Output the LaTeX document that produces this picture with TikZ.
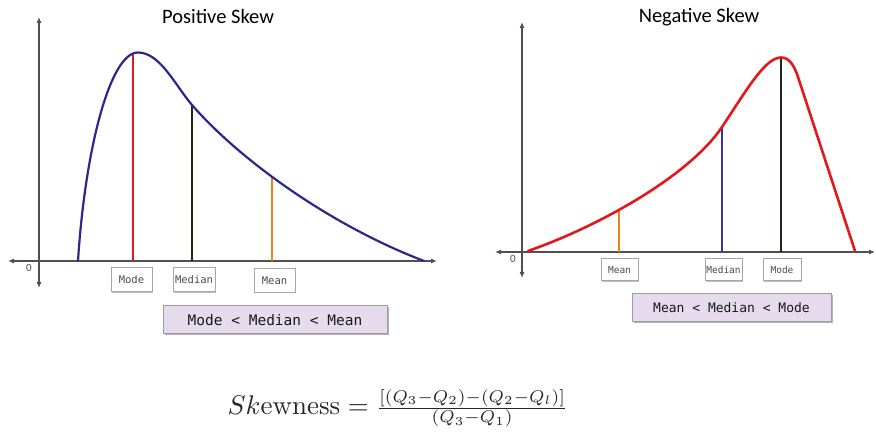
\documentclass[tikz,border=0pt]{standalone}
\usepackage{fontspec}
\usepackage{graphicx}
\usetikzlibrary{arrows.meta,shadows}
\newfontfamily\calib{Carlito}
\newfontfamily\monof{DejaVu Sans Mono}
\definecolor{axisgray}{RGB}{80,80,80}
\definecolor{navycurve}{RGB}{42,40,140}
\definecolor{redcurve}{RGB}{228,24,28}
\definecolor{modered}{RGB}{232,22,30}
\definecolor{darkline}{RGB}{30,42,22}
\definecolor{orangeline}{RGB}{240,128,30}
\definecolor{blueline}{RGB}{55,52,170}
\definecolor{boxfill}{RGB}{229,219,236}
\definecolor{boxborder}{RGB}{160,154,168}
\definecolor{lblgray}{RGB}{75,75,75}
\begin{document}
\begin{tikzpicture}[x=1pt,y=-1pt,
  axis/.style={draw=axisgray, line width=1.1pt, {Latex[length=6pt,width=5pt]}-{Latex[length=6pt,width=5pt]}},
  lcurve/.style={draw=navycurve, line width=2.2pt, line cap=round},
  rcurve/.style={draw=redcurve, line width=2.6pt, line cap=round, line join=round},
  vline/.style={line width=1.6pt},
  titletext/.style={font=\calib\fontsize{20.5}{24}\selectfont, text=black},
  zerotext/.style={font=\calib\fontsize{11}{13}\selectfont, text=axisgray},
  lblbox/.style={draw=black!35, fill=white, line width=1pt, inner sep=0pt,
    minimum height=24pt, text=lblgray,
    drop shadow={shadow xshift=1pt, shadow yshift=-1pt, opacity=0.25, fill=black}},
  bigbox/.style={draw=boxborder, fill=boxfill, line width=1pt, inner sep=0pt,
    minimum height=28pt, text=black!90,
    drop shadow={shadow xshift=1.5pt, shadow yshift=-1.5pt, opacity=0.3, fill=black}}
]
\useasboundingbox (0,0) rectangle (876,435);
\fill[white] (0,0) rectangle (876,435);

% ---------------- Left: Positive Skew ----------------
\node[titletext] (ltitle) at (218,16) {Positive Skew};
\coordinate (lyt) at (39,17);
\coordinate (lyb) at (39,288);
\coordinate (lxl) at (8,261);
\coordinate (lxr) at (437,261);
\draw[axis] (lyb) -- (lyt);
\draw[axis] (lxl) -- (lxr);
\node[zerotext] (lzero) at (29,268) {0};

\coordinate (lstart) at (78,261);
\coordinate (lpeak) at (138,52.5);
\coordinate (lmode) at (133,53.5);
\coordinate (lmedian) at (192,105);
\coordinate (lmean) at (272,176);
\coordinate (lend) at (424,261);
\draw[vline, draw=modered] (lmode) -- (lmode |- lxl);
\draw[vline, draw=darkline] (lmedian) -- (lmedian |- lxl);
\draw[vline, draw=orangeline] (lmean) -- (lmean |- lxl);

\draw[lcurve] (lstart) .. controls (85,150) and (110,52.5) .. (lpeak)
  .. controls (160,52.5) and (175,85) .. (lmedian)
  .. controls (240,160) and (330,225) .. (lend);

\node[lblbox, minimum width=41pt, font=\monof\fontsize{10.5}{12}\selectfont] (lbmode) at (131.5,280) {Mode};
\node[lblbox, minimum width=42pt, font=\monof\fontsize{10.5}{12}\selectfont] (lbmedian) at (194,280) {Median};
\node[lblbox, minimum width=41pt, font=\monof\fontsize{10.5}{12}\selectfont] (lbmean) at (274.5,280.5) {Mean};
\node[bigbox, minimum width=224pt, font=\monof\fontsize{14.5}{17}\selectfont] (lorder) at (275,320) {Mode < Median < Mean};

% ---------------- Right: Negative Skew ----------------
\node[titletext] (rtitle) at (699,17) {Negative Skew};
\coordinate (ryt) at (522,22);
\coordinate (ryb) at (522,278);
\coordinate (rxl) at (495,252);
\coordinate (rxr) at (875,252);
\draw[axis] (ryb) -- (ryt);
\draw[axis] (rxl) -- (rxr);
\node[zerotext] (rzero) at (513,259) {0};

\coordinate (rstart) at (528,251);
\coordinate (rmean) at (619,210.5);
\coordinate (rmedian) at (722,127);
\coordinate (rmode) at (781,57.5);
\coordinate (rshoulder) at (799,80);
\coordinate (rend) at (855,251);
\draw[vline, draw=orangeline] (rmean) -- (rmean |- rxl);
\draw[vline, draw=blueline] (rmedian) -- (rmedian |- rxl);
\draw[vline, draw=darkline] (rmode) -- (rmode |- rxl);

\draw[rcurve] (rstart) .. controls (600,226) and (690,175) .. (rmedian)
  .. controls (746,91) and (765,57.5) .. (rmode)
  .. controls (790,57.5) and (795,67) .. (rshoulder) -- (rend);

\node[lblbox, minimum width=37pt, minimum height=22pt, font=\monof\fontsize{9.5}{11}\selectfont] (rbmean) at (619.5,270) {Mean};
\node[lblbox, minimum width=37pt, minimum height=22pt, font=\monof\fontsize{9.5}{11}\selectfont] (rbmedian) at (723.5,270) {Median};
\node[lblbox, minimum width=38pt, minimum height=22pt, font=\monof\fontsize{9.5}{11}\selectfont] (rbmode) at (782,270) {Mode};
\node[bigbox, minimum width=199pt, font=\monof\fontsize{13}{16}\selectfont] (rorder) at (731.5,308) {Mean < Median < Mode};

% ---------------- Formula ----------------
\node[anchor=base west, inner sep=0pt, scale=2.7, text=black!85] (formula) at (227,415)
  {$Sk\mathrm{ewness}=\raisebox{0.3pt}{\scalebox{0.91}{$\frac{[(Q_3-Q_2)-(Q_2-Q_l)]}{(Q_3-Q_1)}$}}$};
\end{tikzpicture}
\end{document}
